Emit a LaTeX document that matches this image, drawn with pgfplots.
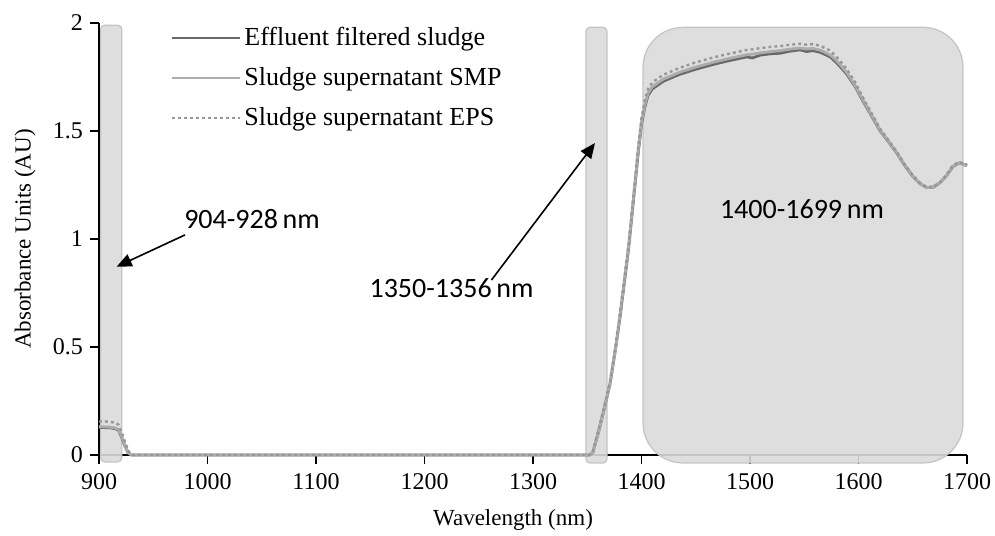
\documentclass[border=0pt]{standalone}
\usepackage{fontspec}
\setmainfont{Liberation Serif}
\newfontfamily\calib{Carlito}
\usepackage{pgfplots}
\pgfplotsset{compat=1.18}
\usetikzlibrary{arrows.meta}

\definecolor{effc}{RGB}{105,105,105}
\definecolor{smpc}{RGB}{172,172,172}
\definecolor{epsc}{RGB}{150,150,150}
\definecolor{boxfill}{RGB}{218,218,218}
\definecolor{boxline}{RGB}{196,196,196}

\pgfplotstableread{
x    eff    smp    eps
900  0.128  0.132  0.155
905  0.127  0.130  0.156
910  0.126  0.129  0.153
915  0.122  0.125  0.150
918  0.115  0.118  0.140
921  0.080  0.085  0.105
924  0.040  0.045  0.060
927  0.008  0.010  0.020
930  0      0      0
1000 0      0      0
1100 0      0      0
1200 0      0      0
1300 0      0      0
1352 0      0      0
1355 0.010  0.010  0.012
1360 0.100  0.100  0.110
1365 0.200  0.200  0.210
1371 0.330  0.330  0.340
1376 0.490  0.490  0.500
1380 0.630  0.640  0.650
1384 0.790  0.800  0.810
1388 0.950  0.960  0.970
1391 1.100  1.110  1.120
1394 1.250  1.260  1.270
1397 1.400  1.410  1.430
1400 1.530  1.540  1.560
1403 1.610  1.620  1.640
1406 1.665  1.675  1.695
1410 1.695  1.705  1.725
1420 1.730  1.740  1.760
1435 1.762  1.772  1.792
1450 1.786  1.796  1.818
1466 1.808  1.818  1.840
1480 1.825  1.835  1.857
1497 1.843  1.853  1.875
1502 1.838  1.856  1.878
1510 1.852  1.862  1.884
1520 1.858  1.868  1.890
1528 1.860  1.872  1.893
1535 1.868  1.878  1.898
1546 1.876  1.884  1.904
1552 1.868  1.880  1.900
1558 1.872  1.882  1.902
1565 1.864  1.874  1.894
1574 1.843  1.852  1.872
1580 1.815  1.825  1.842
1589 1.765  1.772  1.788
1597 1.705  1.710  1.725
1604 1.640  1.645  1.655
1612 1.570  1.574  1.582
1620 1.500  1.503  1.510
1628 1.448  1.450  1.455
1635 1.400  1.402  1.406
1642 1.345  1.347  1.350
1650 1.290  1.292  1.295
1657 1.255  1.256  1.258
1663 1.238  1.238  1.240
1669 1.240  1.240  1.242
1675 1.260  1.260  1.262
1681 1.292  1.292  1.296
1687 1.335  1.336  1.342
1693 1.352  1.352  1.356
1700 1.340  1.340  1.345
}\spectra

\begin{document}
\begin{tikzpicture}
\begin{axis}[
    width=434pt, height=216pt, scale only axis,
    xmin=900, xmax=1700, ymin=0, ymax=2,
    xtick={900,1000,...,1700}, ytick={0,0.5,1,1.5,2},
    axis lines=left, axis line style={-, line width=0.8pt},
    tick style={black, line width=0.8pt},
    tick align=outside, major tick length=4.5pt,
    tick label style={font=\rmfamily\fontsize{12}{14}\selectfont},
    /pgf/number format/assume math mode=true,
    /pgf/number format/1000 sep={},
    xticklabel style={yshift=-1pt},
    xlabel={Wavelength (nm)}, ylabel={Absorbance Units (AU)},
    label style={font=\rmfamily\fontsize{11.5}{13}\selectfont},
    xlabel style={at={(axis description cs:0.477,-0.15)}, anchor=center},
    ylabel style={at={(axis description cs:-0.085,0.5)}, anchor=center},
    clip=false,
    legend cell align=left,
    legend image code/.code={\draw[#1] (0pt,0pt) -- (34pt,0pt);},
    legend style={at={(axis description cs:0.082,0.998)}, anchor=north west,
        draw=none, fill=none, inner sep=0pt, row sep=6.5pt,
        font=\rmfamily\fontsize{13}{15}\selectfont,
        nodes={inner sep=1.5pt}},
]
% shaded bands
\draw[boxline, fill=boxfill, fill opacity=0.9, line width=0.6pt, rounded corners=2pt]
    (axis cs:901.5,-0.032) rectangle (axis cs:921,1.99);
\draw[boxline, fill=boxfill, fill opacity=0.9, line width=0.6pt, rounded corners=2pt]
    (axis cs:1348.8,-0.037) rectangle (axis cs:1368.2,1.98);
\draw[boxline, fill=boxfill, fill opacity=0.9, line width=0.6pt, rounded corners=20pt]
    (axis cs:1401.4,-0.037) rectangle (axis cs:1696.3,1.98);

\addplot[effc, line width=1.4pt] table[x=x, y=eff] {\spectra};
\addplot[smpc, line width=1.4pt] table[x=x, y=smp] {\spectra};
\addplot[epsc, line width=1.2pt, dash pattern=on 1.4pt off 1.6pt] table[x=x, y=eps] {\spectra};
\legend{Effluent filtered sludge, Sludge supernatant SMP, Sludge supernatant EPS}

% annotations
\node at (axis cs:1041,1.093) {\calib\fontsize{14}{16}\selectfont 904-928\,nm};
\draw[line width=0.8pt, -{Triangle[length=7.5pt,width=6.5pt]}] (axis cs:979.3,1.019) -- (axis cs:916.3,0.872);
\node at (axis cs:1224.9,0.773) {\calib\fontsize{14}{16}\selectfont 1350-1356\,nm};
\draw[line width=0.8pt, -{Triangle[length=7.5pt,width=6.5pt]}] (axis cs:1261.7,0.810) -- (axis cs:1357.1,1.444);
\node at (axis cs:1547.9,1.139) {\calib\fontsize{14}{16}\selectfont 1400-1699\,nm};
\end{axis}
\pgfresetboundingbox
\path (-49.5pt,-40pt) rectangle (448pt,227.5pt);
\end{tikzpicture}
\end{document}
